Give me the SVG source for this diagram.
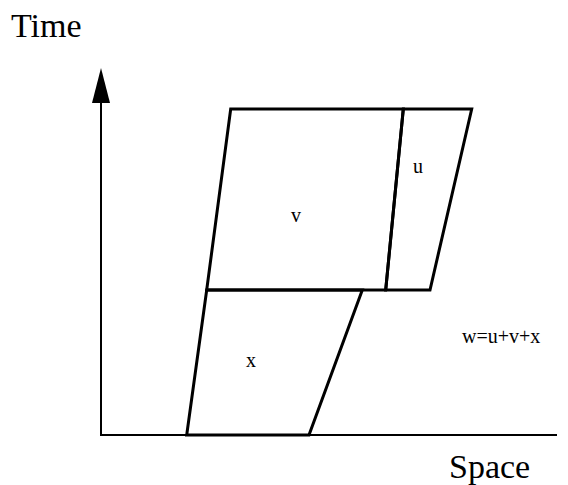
<svg xmlns="http://www.w3.org/2000/svg" width="568" height="485" viewBox="0 0 568 485">
<style>
.ax{stroke:#000;stroke-width:2;fill:none}
.reg{stroke:#000;stroke-width:3;fill:none;stroke-linejoin:miter}
text{font-family:'Liberation Serif','DejaVu Serif',serif;fill:#000}
.big{font-size:34px}
.sm{font-size:20px}
</style>
<rect width="568" height="485" fill="#fff"/>
<g id="connectors">
<line class="ax" x1="101" y1="435" x2="101" y2="100"/>
<polygon points="101,68 92,103 110,103" fill="#000"/>
<line class="ax" x1="100" y1="435" x2="557" y2="435"/>
</g>
<g id="region-v">
<polygon class="reg" points="230.7,109 403.3,109 385.7,290 206.7,290"/>
<text class="sm" x="291" y="222" font-family="Liberation Serif, serif">v</text>
</g>
<g id="region-u">
<polygon class="reg" points="403.3,109 471.7,109 430,290 385.7,290"/>
<text class="sm" x="413" y="173" font-family="Liberation Serif, serif">u</text>
</g>
<g id="region-x">
<polygon class="reg" points="206.7,290 362.3,290 309,435 186.7,435"/>
<text class="sm" x="246" y="367" font-family="Liberation Serif, serif">x</text>
</g>
<g id="labels">
<text class="big" x="11" y="37" font-family="Liberation Serif, serif">Time</text>
<text class="big" x="449" y="478" font-family="Liberation Serif, serif">Space</text>
<text class="sm" x="462" y="343" font-family="Liberation Serif, serif">w=u+v+x</text>
</g>
</svg>
